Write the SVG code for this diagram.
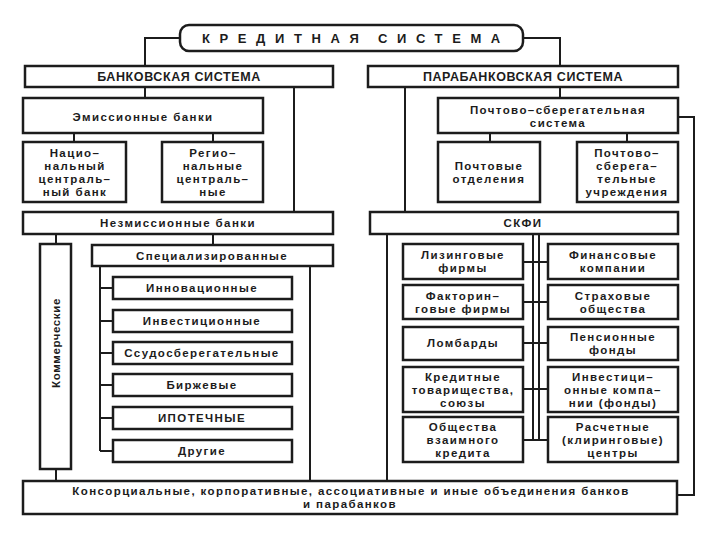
<svg xmlns="http://www.w3.org/2000/svg" width="720" height="540" viewBox="0 0 720 540">
<style>
.box{fill:#fff;stroke:#1c1c1c;stroke-width:2.5}
.ln{fill:none;stroke:#1c1c1c;stroke-width:2}
text{font-family:"Liberation Sans",Arial,sans-serif;font-size:11.5px;font-weight:bold;fill:#1c1c1c;text-anchor:middle;letter-spacing:1.4px}
.ttl{font-size:13px;letter-spacing:9.6px;text-anchor:start}
.cap{font-size:12.5px;letter-spacing:0.6px}
</style>
<rect width="720" height="540" fill="#fff"/>
<g id="connectors">
<path class="ln" d="M180,38 H145 V66 M523,38 H560 V66"/>
<path class="ln" d="M145,87 V98 M294,87 V212 M74,133 V142 M213,133 V142"/>
<path class="ln" d="M56,234 V244 M213,234 V245 M56,469 V481"/>
<path class="ln" d="M100,266 V451 M100,288 H113 M100,321 H113 M100,353 H113 M100,385 H113 M100,418 H113 M100,451 H113 M310,266 V481"/>
<path class="ln" d="M405,87 V212 M560,87 V98 M490,133 V142 M627,133 V142 M678,117 H694 V495 H677"/>
<path class="ln" d="M387,234 V481 M533,234 V440 M539,234 V440"/>
<path class="ln" d="M523,262 H548 M523,302 H548 M523,343 H548 M523,389 H548 M523,440 H548"/>
</g>
<g id="kreditnaya"><rect class="box" x="180" y="25" width="343" height="26" rx="9"/><text class="ttl" x="202" y="43">КРЕДИТНАЯ</text><text class="ttl" x="378" y="43">СИСТЕМА</text></g>
<g id="bank"><rect class="box" x="25" y="66" width="308" height="21"/><text class="cap" x="179" y="81">БАНКОВСКАЯ СИСТЕМА</text></g>
<g id="parabank"><rect class="box" x="368" y="66" width="310" height="21"/><text class="cap" x="523" y="81">ПАРАБАНКОВСКАЯ СИСТЕМА</text></g>
<g id="emis"><rect class="box" x="23" y="98" width="240" height="35"/><text x="143" y="121">Эмиссионные банки</text></g>
<g id="nac"><rect class="box" x="23" y="142" width="103" height="60"/><text x="75" y="157">Нацио–</text><text x="75" y="170">нальный</text><text x="75" y="183">централь–</text><text x="75" y="196">ный банк</text></g>
<g id="reg"><rect class="box" x="162" y="142" width="101" height="60"/><text x="213" y="157">Регио–</text><text x="213" y="170">нальные</text><text x="213" y="183">централь–</text><text x="213" y="196">ные</text></g>
<g id="neemis"><rect class="box" x="23" y="212" width="310" height="22"/><text x="178" y="227">Незмиссионные банки</text></g>
<g id="kommer"><rect class="box" x="40" y="244" width="31" height="225"/><text x="0" y="0" style="font-size:11.5px;letter-spacing:0.6px" transform="translate(60,343) rotate(-90)">Коммерческие</text></g>
<g id="spec"><rect class="box" x="92" y="245" width="241" height="21"/><text x="212" y="260">Специализированные</text></g>
<g id="innov"><rect class="box" x="113" y="277" width="179" height="22"/><text x="202" y="292">Инновационные</text></g>
<g id="invest"><rect class="box" x="113" y="310" width="179" height="22"/><text x="202" y="325">Инвестиционные</text></g>
<g id="ssudo"><rect class="box" x="113" y="342" width="179" height="22"/><text x="202" y="357">Ссудосберегательные</text></g>
<g id="birzh"><rect class="box" x="113" y="374" width="179" height="22"/><text x="202" y="389">Биржевые</text></g>
<g id="ipot"><rect class="box" x="113" y="407" width="179" height="22"/><text x="202" y="422">ИПОТЕЧНЫЕ</text></g>
<g id="drugie"><rect class="box" x="113" y="440" width="179" height="22"/><text x="202" y="455">Другие</text></g>
<g id="pochsber"><rect class="box" x="438" y="98" width="240" height="35"/><text x="558" y="114">Почтово–сберегательная</text><text x="558" y="127">система</text></g>
<g id="pochotd"><rect class="box" x="438" y="142" width="102" height="60"/><text x="489" y="170">Почтовые</text><text x="489" y="183">отделения</text></g>
<g id="pochuchr"><rect class="box" x="577" y="142" width="101" height="60"/><text x="627" y="157">Почтово–</text><text x="627" y="170">сберега–</text><text x="627" y="183">тельные</text><text x="627" y="196">учреждения</text></g>
<g id="skfi"><rect class="box" x="370" y="212" width="308" height="22"/><text x="523" y="227">СКФИ</text></g>
<g id="lizing"><rect class="box" x="403" y="244" width="120" height="35"/><text x="463" y="259">Лизинговые</text><text x="463" y="272">фирмы</text></g>
<g id="faktor"><rect class="box" x="403" y="285" width="120" height="34"/><text x="463" y="300">Факторин–</text><text x="463" y="313">говые фирмы</text></g>
<g id="lombard"><rect class="box" x="403" y="327" width="120" height="33"/><text x="463" y="347">Ломбарды</text></g>
<g id="kredtov"><rect class="box" x="403" y="367" width="120" height="45"/><text x="463" y="381">Кредитные</text><text x="463" y="394">товарищества,</text><text x="463" y="407">союзы</text></g>
<g id="obsch"><rect class="box" x="403" y="417" width="120" height="45"/><text x="463" y="431">Общества</text><text x="463" y="444">взаимного</text><text x="463" y="457">кредита</text></g>
<g id="finkomp"><rect class="box" x="548" y="244" width="130" height="35"/><text x="613" y="259">Финансовые</text><text x="613" y="272">компании</text></g>
<g id="strah"><rect class="box" x="548" y="285" width="130" height="34"/><text x="613" y="300">Страховые</text><text x="613" y="313">общества</text></g>
<g id="pens"><rect class="box" x="548" y="327" width="130" height="33"/><text x="613" y="341">Пенсионные</text><text x="613" y="354">фонды</text></g>
<g id="investkomp"><rect class="box" x="548" y="367" width="130" height="45"/><text x="613" y="381">Инвестици–</text><text x="613" y="394">онные компа–</text><text x="613" y="407">нии (фонды)</text></g>
<g id="raschet"><rect class="box" x="548" y="417" width="130" height="45"/><text x="613" y="431">Расчетные</text><text x="613" y="444">(клиринговые)</text><text x="613" y="457">центры</text></g>
<g id="konsorc"><rect class="box" x="23" y="481" width="654" height="33"/><text x="351" y="495">Консорциальные, корпоративные, ассоциативные и иные объединения банков</text><text x="350" y="508">и парабанков</text></g>
</svg>
